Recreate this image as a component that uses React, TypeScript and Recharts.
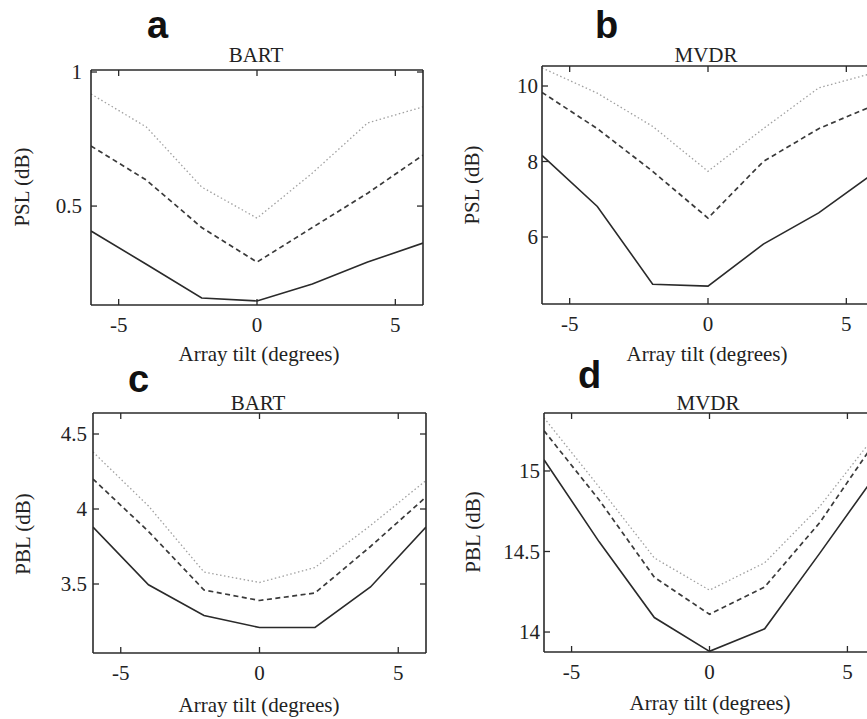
import React from 'react';
import { LineChart, Line, XAxis, YAxis } from 'recharts';

const tilt = [-6, -4, -2, 0, 2, 4, 6];
const xTicks = [-5, 0, 5];

// Panel a: BART PSL
const aSolid = [0.407, 0.283, 0.157, 0.146, 0.209, 0.291, 0.362];
const aDashed = [0.724, 0.597, 0.42, 0.291, 0.42, 0.548, 0.69];
const aDotted = [0.918, 0.795, 0.571, 0.455, 0.623, 0.81, 0.87];
const aTicks = [0.5, 1];

// Panel b: MVDR PSL
const bSolid = [8.16, 6.81, 4.75, 4.7, 5.81, 6.64, 7.7];
const bDashed = [9.83, 8.87, 7.74, 6.5, 8.0, 8.87, 9.49];
const bDotted = [10.48, 9.81, 8.93, 7.74, 8.87, 9.95, 10.35];
const bTicks = [6, 8, 10];

// Panel c: BART PBL
const cSolid = [3.88, 3.495, 3.29, 3.21, 3.21, 3.48, 3.88];
const cDashed = [4.2, 3.85, 3.46, 3.39, 3.44, 3.75, 4.08];
const cDotted = [4.38, 4.02, 3.58, 3.51, 3.61, 3.89, 4.19];
const cTicks = [3.5, 4, 4.5];

// Panel d: MVDR PBL
const dSolid = [15.07, 14.56, 14.09, 13.88, 14.02, 14.49, 14.97];
const dDashed = [15.25, 14.82, 14.34, 14.11, 14.28, 14.68, 15.18];
const dDotted = [15.33, 14.9, 14.46, 14.26, 14.43, 14.78, 15.22];
const dTicks = [14, 14.5, 15];

const W = 900;
const H = 719;
const AX = 20; // reserved size of each axis band
const SERIF = '"Liberation Serif", "Times New Roman", serif';
const SANS = '"Liberation Sans", Arial, sans-serif';
const INK = '#2a2a2a';
const tickText = { fontFamily: SERIF, fontSize: 21 };

type PanelProps = {
  box: { l: number; r: number; t: number; b: number };
  domain: [number, number];
  yTicks: number[];
  solid: number[];
  dashed: number[];
  dotted: number[];
  gap: number;
};

const Panel = ({ box, domain, yTicks, solid, dashed, dotted, gap }: PanelProps) => {
  const data = tilt.map((t, i) => ({ t, s: solid[i], d: dashed[i], o: dotted[i] }));
  const BottomTick = (p: any) => (
    <g>
      <line x1={p.x} x2={p.x} y1={box.b} y2={box.b - 6} stroke={INK} strokeWidth={1.3} />
      <text x={p.x} y={box.b + 27} textAnchor="middle" style={tickText} fill="#222">
        {String(p.payload.value)}
      </text>
    </g>
  );
  const TopTick = (p: any) => (
    <line x1={p.x} x2={p.x} y1={box.t} y2={box.t + 6} stroke={INK} strokeWidth={1.3} />
  );
  const LeftTick = (p: any) => (
    <g>
      <line x1={box.l} x2={box.l + 6} y1={p.y} y2={p.y} stroke={INK} strokeWidth={1.3} />
      <text x={box.l - gap} y={p.y + 7} textAnchor="end" style={tickText} fill="#222">
        {String(p.payload.value)}
      </text>
    </g>
  );
  const RightTick = (p: any) => (
    <line x1={box.r} x2={box.r - 6} y1={p.y} y2={p.y} stroke={INK} strokeWidth={1.3} />
  );
  const axisLine = { stroke: INK, strokeWidth: 1.6 };
  return (
    <div style={{ position: 'absolute', left: 0, top: 0 }}>
      <LineChart
        width={W}
        height={H}
        data={data}
        margin={{ left: box.l - AX, top: box.t - AX, right: W - box.r - AX, bottom: H - box.b - AX }}
      >
        <XAxis
          xAxisId="bottom"
          dataKey="t"
          type="number"
          domain={[-6, 6]}
          ticks={xTicks}
          allowDataOverflow
          orientation="bottom"
          height={AX}
          tickSize={0}
          tickMargin={0}
          tickLine={false}
          axisLine={axisLine}
          tick={<BottomTick />}
          interval={0}
        />
        <XAxis
          xAxisId="top"
          dataKey="t"
          type="number"
          domain={[-6, 6]}
          ticks={xTicks}
          allowDataOverflow
          orientation="top"
          height={AX}
          tickSize={0}
          tickMargin={0}
          tickLine={false}
          axisLine={axisLine}
          tick={<TopTick />}
          interval={0}
        />
        <YAxis
          yAxisId="left"
          type="number"
          domain={domain}
          ticks={yTicks}
          allowDataOverflow
          orientation="left"
          width={AX}
          tickSize={0}
          tickMargin={0}
          tickLine={false}
          axisLine={axisLine}
          tick={<LeftTick />}
          interval={0}
        />
        <YAxis
          yAxisId="right"
          type="number"
          domain={domain}
          ticks={yTicks}
          allowDataOverflow
          orientation="right"
          width={AX}
          tickSize={0}
          tickMargin={0}
          tickLine={false}
          axisLine={axisLine}
          tick={<RightTick />}
          interval={0}
        />
        <Line
          xAxisId="top"
          yAxisId="right"
          dataKey="o"
          stroke="#a0a0a0"
          strokeWidth={1.3}
          strokeDasharray="1.5 2.5"
          dot={false}
          isAnimationActive={false}
        />
        <Line
          xAxisId="bottom"
          yAxisId="left"
          dataKey="d"
          stroke="#3a3a3a"
          strokeWidth={1.7}
          strokeDasharray="5 3.5"
          dot={false}
          isAnimationActive={false}
        />
        <Line
          xAxisId="bottom"
          yAxisId="left"
          dataKey="s"
          stroke="#2a2a2a"
          strokeWidth={1.6}
          dot={false}
          isAnimationActive={false}
        />
      </LineChart>
    </div>
  );
};

const Labels = () => (
  <svg width={867} height={719} style={{ position: 'absolute', left: 0, top: 0 }}>
    <g fontFamily={SANS} fontWeight="bold" fontSize={38} fill="#111">
      <text x={147} y={38}>a</text>
      <text x={595} y={38}>b</text>
      <text x={128} y={392}>c</text>
      <text x={578} y={388}>d</text>
    </g>
    <g fontFamily={SERIF} fontSize={21} fill="#222" textAnchor="middle">
      <text x={256} y={62}>BART</text>
      <text x={706} y={62}>MVDR</text>
      <text x={258} y={410}>BART</text>
      <text x={708} y={410}>MVDR</text>
      <text x={259} y={361}>Array tilt (degrees)</text>
      <text x={707} y={361}>Array tilt (degrees)</text>
      <text x={259} y={712}>Array tilt (degrees)</text>
      <text x={710} y={710}>Array tilt (degrees)</text>
      <text x={29} y={187} transform="rotate(-90 29 187)">PSL (dB)</text>
      <text x={479} y={185} transform="rotate(-90 479 185)">PSL (dB)</text>
      <text x={30} y={534} transform="rotate(-90 30 534)">PBL (dB)</text>
      <text x={480} y={532} transform="rotate(-90 480 532)">PBL (dB)</text>
    </g>
  </svg>
);

export default function App() {
  return (
    <div
      style={{
        position: 'fixed',
        left: 0,
        top: 0,
        width: 867,
        height: 719,
        overflow: 'hidden',
        background: '#fff',
      }}
    >
      <Panel box={{ l: 91, r: 423, t: 70, b: 305 }} domain={[0.131, 1.0075]} yTicks={aTicks} solid={aSolid} dashed={aDashed} dotted={aDotted} gap={9} />
      <Panel box={{ l: 542, r: 874, t: 66, b: 304 }} domain={[4.225, 10.53]} yTicks={bTicks} solid={bSolid} dashed={bDashed} dotted={bDotted} gap={4} />
      <Panel box={{ l: 93, r: 426, t: 413, b: 653 }} domain={[3.04, 4.64]} yTicks={cTicks} solid={cSolid} dashed={cDashed} dotted={cDotted} gap={6} />
      <Panel box={{ l: 544, r: 875, t: 413, b: 652 }} domain={[13.876, 15.36]} yTicks={dTicks} solid={dSolid} dashed={dDashed} dotted={dDotted} gap={4} />
      <Labels />
    </div>
  );
}
